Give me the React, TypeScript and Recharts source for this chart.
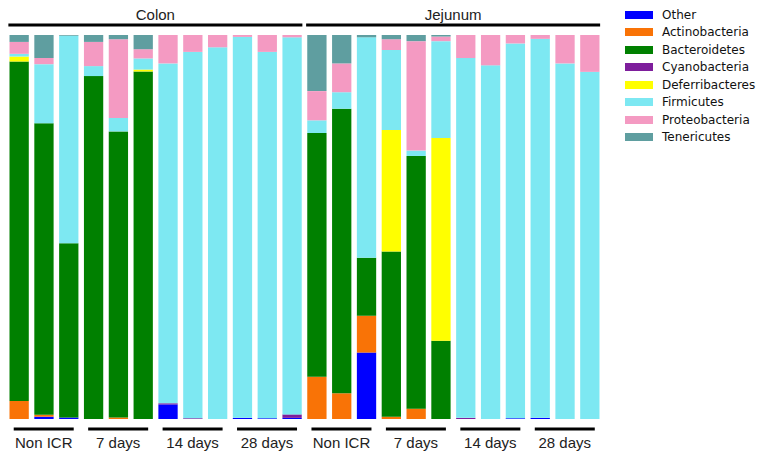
import React from "react";
import { BarChart, Bar, XAxis, YAxis } from "recharts";

const samples = [
  "C-N1", "C-N2", "C-N3", "C-7d1", "C-7d2", "C-7d3",
  "C-14d1", "C-14d2", "C-14d3", "C-28d1", "C-28d2", "C-28d3",
  "J-N1", "J-N2", "J-N3", "J-7d1", "J-7d2", "J-7d3",
  "J-14d1", "J-14d2", "J-14d3", "J-28d1", "J-28d2", "J-28d3",
];
const groupLabels = ["Non ICR", "7 days", "14 days", "28 days", "Non ICR", "7 days", "14 days", "28 days"];
const tissueLabels = ["Colon", "Jejunum"];

// relative abundance (%), bottom to top of stack
const other = [0, 0.6, 0.4, 0, 0, 0, 3.8, 0, 0, 0.3, 0.2, 0.3, 0, 0, 17.3, 0, 0, 0, 0, 0, 0.2, 0.3, 0, 0];
const actinobacteria = [4.7, 0.5, 0, 0, 0.4, 0, 0, 0, 0, 0, 0, 0, 11.0, 6.7, 9.6, 0.6, 2.7, 0, 0, 0, 0, 0, 0, 0];
const bacteroidetes = [88.3, 76.0, 45.3, 89.3, 74.5, 90.5, 0, 0, 0, 0, 0, 0, 63.4, 74.1, 15.1, 43.0, 65.8, 20.4, 0, 0, 0, 0, 0, 0];
const cyanobacteria = [0, 0, 0, 0, 0, 0, 0.3, 0.2, 0, 0, 0, 0.9, 0, 0, 0, 0, 0, 0, 0.3, 0, 0, 0, 0, 0];
const deferribacteres = [1.3, 0, 0, 0, 0, 0.5, 0, 0, 0, 0, 0, 0, 0, 0, 0, 31.6, 0, 52.8, 0, 0, 0, 0, 0, 0];
const firmicutes = [0.7, 15.4, 54.0, 2.6, 3.5, 2.9, 88.5, 95.4, 96.8, 99.2, 95.4, 98.2, 3.3, 4.3, 57.4, 20.8, 1.4, 25.2, 93.7, 92.1, 97.6, 98.7, 92.6, 90.4];
const proteobacteria = [3.1, 1.6, 0, 6.3, 20.5, 2.4, 7.4, 4.4, 3.2, 0.5, 4.4, 0.6, 7.6, 7.5, 0, 2.8, 28.5, 1.2, 6.0, 7.9, 2.2, 1.0, 7.4, 9.6];
const tenericutes = [1.8, 6.0, 0.2, 1.8, 1.1, 3.7, 0, 0, 0, 0, 0, 0, 14.6, 7.4, 0.6, 1.1, 1.6, 0.4, 0, 0, 0, 0, 0, 0];

const series = [
  { key: "Other", values: other, color: "#0000ff" },
  { key: "Actinobacteria", values: actinobacteria, color: "#f97306" },
  { key: "Bacteroidetes", values: bacteroidetes, color: "#008000" },
  { key: "Cyanobacteria", values: cyanobacteria, color: "#7e1e9c" },
  { key: "Deferribacteres", values: deferribacteres, color: "#ffff00" },
  { key: "Firmicutes", values: firmicutes, color: "#7de8f2" },
  { key: "Proteobacteria", values: proteobacteria, color: "#f49ac2" },
  { key: "Tenericutes", values: tenericutes, color: "#5f9ea0" },
];

const data = samples.map((name, i) => {
  const row: Record<string, number | string> = { name };
  series.forEach((s) => (row[s.key] = s.values[i]));
  return row;
});

const W = 763;
const H = 460;
const M = { top: 5, right: 161, bottom: 11, left: 6.5 };
const BAND = (W - M.left - M.right) / samples.length;
const labelFont = "'Liberation Sans', Arial, sans-serif";

const GroupTick = (props: any) => {
  const { x, index } = props;
  if (index % 3 !== 1) return null;
  const label = groupLabels[Math.floor(index / 3)];
  return (
    <g>
      <line x1={x - 30} x2={x + 30} y1={429} y2={429} stroke="#000" strokeWidth={3} />
      <text x={x} y={448} textAnchor="middle" fontSize={15} fontFamily={labelFont} fill="#222">
        {label}
      </text>
    </g>
  );
};

const TissueTick = (props: any) => {
  const { x, index } = props;
  if (index % 12 !== 5) return null;
  const cx = x + BAND / 2;
  const label = tissueLabels[Math.floor(index / 12)];
  return (
    <g>
      <line x1={cx - 147} x2={cx + 147} y1={25} y2={25} stroke="#000" strokeWidth={3} />
      <text x={cx} y={20} textAnchor="middle" fontSize={15} fontFamily={labelFont} fill="#222">
        {label}
      </text>
    </g>
  );
};

const LegendBox = () => (
  <div
    style={{
      position: "absolute",
      left: 625,
      top: 6,
      fontFamily: "'DejaVu Sans', sans-serif",
      fontSize: 12,
      color: "#111",
    }}
  >
    {series.map((s) => (
      <div key={s.key} style={{ display: "flex", alignItems: "center", height: 17.5 }}>
        <span style={{ width: 28, height: 8, background: s.color, marginRight: 9 }} />
        <span>{s.key}</span>
      </div>
    ))}
  </div>
);

export default function App() {
  return (
    <div style={{ position: "fixed", left: 0, top: 0, width: W, height: H, background: "#fff" }}>
      <BarChart width={W} height={H} data={data} margin={M} stackOffset="expand" barSize={19.3}>
        <XAxis dataKey="name" xAxisId="bottom" interval={0} axisLine={false} tickLine={false} tick={<GroupTick />} height={30} />
        <XAxis dataKey="name" xAxisId="top" orientation="top" interval={0} axisLine={false} tickLine={false} tick={<TissueTick />} height={30} />
        <YAxis hide domain={[0, 1]} />
        {series.map((s) => (
          <Bar key={s.key} dataKey={s.key} stackId="a" xAxisId="bottom" fill={s.color} isAnimationActive={false} />
        ))}
      </BarChart>
      <LegendBox />
    </div>
  );
}
